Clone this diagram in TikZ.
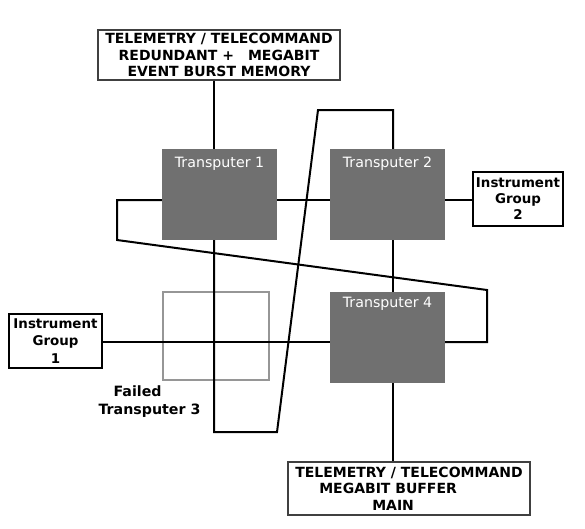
\documentclass[tikz,border=0pt]{standalone}
\usepackage{fontspec}
\setmainfont{DejaVu Sans}
\usetikzlibrary{calc}
\definecolor{tpfill}{RGB}{112,112,112}
\definecolor{failgray}{RGB}{150,150,150}
\begin{document}
\begin{tikzpicture}[x=1pt,y=-1pt,
  wire/.style={line width=2pt, black, line join=miter},
  tp/.style={rectangle, fill=tpfill, minimum width=115pt, minimum height=91pt, inner sep=0pt},
  tplab/.style={text=white, font=\fontsize{14.2}{16}\selectfont, inner sep=0pt, anchor=base},
  txtbox/.style={draw=black!75, line width=1.3pt, inner sep=0pt, font=\bfseries\fontsize{14}{16.5}\selectfont},
  igbox/.style={draw=black, line width=1.3pt, inner sep=0pt, align=center, minimum height=54pt},
]
\useasboundingbox (0,0) rectangle (585,528);

% text boxes
\node[txtbox, minimum width=242pt, minimum height=50pt, align=center] (top) at (219,55)
  {TELEMETRY / TELECOMMAND\\REDUNDANT +\hspace{14pt}MEGABIT\\EVENT BURST MEMORY};
\node[txtbox, minimum width=242pt, minimum height=53pt, align=left] (bot) at (409,488.5)
  {TELEMETRY / TELECOMMAND\\\hspace*{24pt}MEGABIT BUFFER\\\hspace*{77pt}MAIN};

% instrument groups
\node[igbox, minimum width=93pt, font=\bfseries\fontsize{13.4}{17.5}\selectfont] (ig1) at (55.5,341) {Instrument\\Group\\1};
\node[igbox, minimum width=90pt, font=\bfseries\fontsize{13.4}{16}\selectfont] (ig2) at (518,199) {Instrument\\Group\\2};

% transputers
\node[tp] (t1) at (219.5,194.5) {};
\node[tp] (t2) at (387.5,194.5) {};
\node[tp] (t4) at (387.5,337.5) {};
\node[draw=failgray, line width=1.5pt, minimum width=106pt, minimum height=88pt, inner sep=0pt] (t3) at (216,336) {};

\node[tplab] (t1lab) at ([yshift=-18.5pt]t1.north) {Transputer 1};
\node[tplab] (t2lab) at ([yshift=-18.5pt]t2.north) {Transputer 2};
\node[tplab] (t4lab) at ([yshift=-16pt]t4.north) {Transputer 4};

\node[font=\bfseries\fontsize{14.2}{18}\selectfont, align=left, inner sep=0pt] (flab) at (149.5,402)
  {\hspace*{15pt}Failed\\Transputer 3};

% routing coordinates
\coordinate (vA) at (214,0);
\coordinate (vB) at (393,0);
\coordinate (hA) at (0,200);
\coordinate (hB) at (0,342);
\coordinate (c1) at (214,432);
\coordinate (c2) at (277,432);
\coordinate (c3) at (318,110);
\coordinate (c4) at (393,110);
\coordinate (d1) at (117,200);
\coordinate (d2) at (117,240);
\coordinate (d3) at (487,290);
\coordinate (d4) at (487,342);

% wires
\draw[wire] (top.south -| vA) -- (t1.north -| vA);
\draw[wire] (t1.east |- hA) -- (t2.west |- hA);
\draw[wire] (t2.east |- hA) -- (ig2.west |- hA);
\draw[wire] (t2.south -| vB) -- (t4.north -| vB);
\draw[wire] (t4.south -| vB) -- (bot.north -| vB);
\draw[wire] (ig1.east |- hB) -- (t4.west |- hB);
\draw[wire] (t1.south -| vA) -- (c1) -- (c2) -- (c3) -- (c4) -- (t2.north -| vB);
\draw[wire] (t1.west |- hA) -- (d1) -- (d2) -- (d3) -- (d4) -- (t4.east |- hB);
\end{tikzpicture}
\end{document}
